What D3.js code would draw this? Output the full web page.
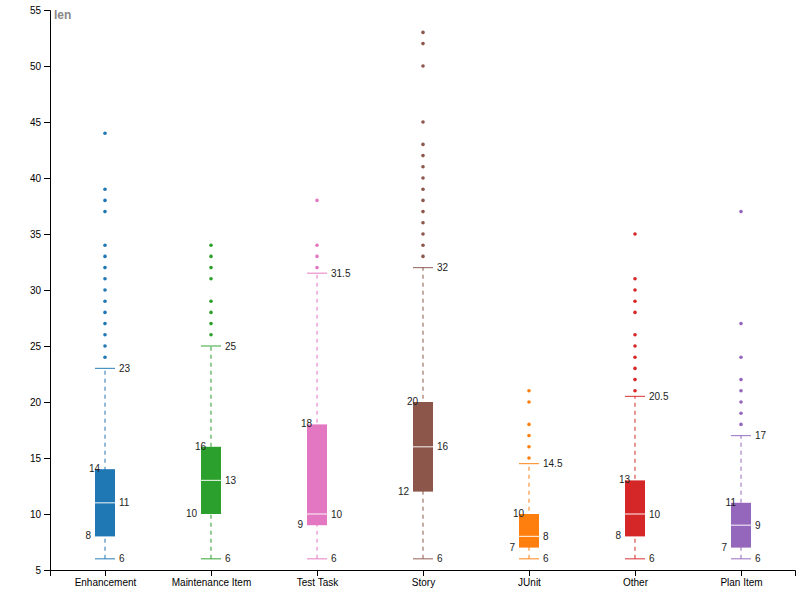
<!DOCTYPE html>
<html>
<head>
<meta charset="utf-8">
<script src="https://cdn.jsdelivr.net/npm/d3@7"></script>
<style>
  body { margin: 0; background: #fff; }
  svg { font-family: "Liberation Sans", Arial, sans-serif; }
  .lbl { font-size: 10px; fill: #222; }
</style>
</head>
<body>
<div id="chart"></div>
<script>
// categories and their colours
var categories = ["Enhancement", "Maintenance Item", "Test Task", "Story", "JUnit", "Other", "Plan Item"];
var colors = ["#1f77b4", "#2ca02c", "#e377c2", "#8c564b", "#ff7f0e", "#d62728", "#9467bd"];

// box statistics: lower whisker, q1, median, q3, upper whisker
var lowWhisker = [6, 6, 6, 6, 6, 6, 6];
var q1 = [8, 10, 9, 12, 7, 8, 7];
var median = [11, 13, 10, 16, 8, 10, 9];
var q3 = [14, 16, 18, 20, 10, 13, 11];
var highWhisker = [23, 25, 31.5, 32, 14.5, 20.5, 17];

// outliers per category
var outliers = [
  [24, 25, 26, 27, 28, 29, 30, 31, 32, 33, 34, 37, 38, 39, 44],
  [26, 27, 28, 29, 31, 32, 33, 34],
  [32, 33, 34, 38],
  [33, 34, 35, 36, 37, 38, 39, 40, 41, 42, 43, 45, 50, 52, 53],
  [15, 16, 17, 18, 20, 21],
  [21, 22, 23, 24, 25, 26, 28, 29, 30, 31, 35],
  [18, 19, 20, 21, 22, 24, 27, 37]
];

var yTicks = [5, 10, 15, 20, 25, 30, 35, 40, 45, 50, 55];

var width = 805, height = 600;
var boxW = 20;

var svg = d3.select("#chart").append("svg")
  .attr("width", width)
  .attr("height", height);

var x = d3.scaleBand().domain(categories).range([50, 795]).round(true);
var y = d3.scaleLinear().domain([5, 55]).range([570, 10]);

svg.append("g")
  .attr("transform", "translate(50,0)")
  .call(d3.axisLeft(y).tickValues(yTicks));

svg.append("g")
  .attr("transform", "translate(0,570)")
  .call(d3.axisBottom(x));

svg.append("text")
  .attr("x", 54)
  .attr("y", 19)
  .attr("fill", "#888")
  .attr("font-weight", "bold")
  .attr("font-size", "12px")
  .text("len");

var rows = categories.map(function(c, i) {
  return {
    name: c, color: colors[i], lo: lowWhisker[i], q1: q1[i], med: median[i],
    q3: q3[i], hi: highWhisker[i], out: outliers[i]
  };
});

var g = svg.selectAll("g.box")
  .data(rows)
  .enter().append("g")
  .attr("class", "box")
  .attr("transform", function(d) { return "translate(" + (x(d.name) + x.bandwidth() / 2) + ",0)"; });

// whisker
g.append("line")
  .attr("x1", 0).attr("x2", 0)
  .attr("y1", function(d) { return y(d.lo); })
  .attr("y2", function(d) { return y(d.hi); })
  .attr("stroke", function(d) { return d.color; })
  .attr("stroke-opacity", 0.5)
  .attr("stroke-width", 2)
  .attr("stroke-dasharray", "4,4");

// caps
g.selectAll("line.cap")
  .data(function(d) { return [{v: d.lo, c: d.color}, {v: d.hi, c: d.color}]; })
  .enter().append("line")
  .attr("class", "cap")
  .attr("x1", -boxW / 2).attr("x2", boxW / 2)
  .attr("y1", function(d) { return y(d.v); })
  .attr("y2", function(d) { return y(d.v); })
  .attr("stroke", function(d) { return d.c; })
  .attr("stroke-opacity", 0.8)
  .attr("stroke-width", 1.2);

// box
g.append("rect")
  .attr("x", -boxW / 2)
  .attr("width", boxW)
  .attr("y", function(d) { return y(d.q3); })
  .attr("height", function(d) { return y(d.q1) - y(d.q3); })
  .attr("fill", function(d) { return d.color; });

// median
g.append("line")
  .attr("x1", -boxW / 2).attr("x2", boxW / 2)
  .attr("y1", function(d) { return y(d.med); })
  .attr("y2", function(d) { return y(d.med); })
  .attr("stroke", "#fff")
  .attr("stroke-opacity", 0.8)
  .attr("stroke-width", 1.2);

// outliers
g.selectAll("circle")
  .data(function(d) { return d.out.map(function(v) { return {v: v, c: d.color}; }); })
  .enter().append("circle")
  .attr("cx", 0)
  .attr("cy", function(d) { return y(d.v); })
  .attr("r", 1.8)
  .attr("fill", function(d) { return d.c; });

// labels on the right
g.selectAll("text.right")
  .data(function(d) { return [d.lo, d.med, d.hi]; })
  .enter().append("text")
  .attr("class", "lbl right")
  .attr("x", boxW / 2 + 4)
  .attr("y", function(v) { return y(v); })
  .attr("dy", "0.35em")
  .text(function(v) { return v; });

// quartile labels on the left
g.append("text")
  .attr("class", "lbl")
  .attr("x", -boxW / 2 + 5)
  .attr("y", function(d) { return y(d.q3); })
  .attr("dy", "0.3em")
  .attr("text-anchor", "end")
  .text(function(d) { return d.q3; });

g.append("text")
  .attr("class", "lbl")
  .attr("x", -boxW / 2 - 4)
  .attr("y", function(d) { return y(d.q1); })
  .attr("dy", "0.3em")
  .attr("text-anchor", "end")
  .text(function(d) { return d.q1; });
</script>
</body>
</html>
